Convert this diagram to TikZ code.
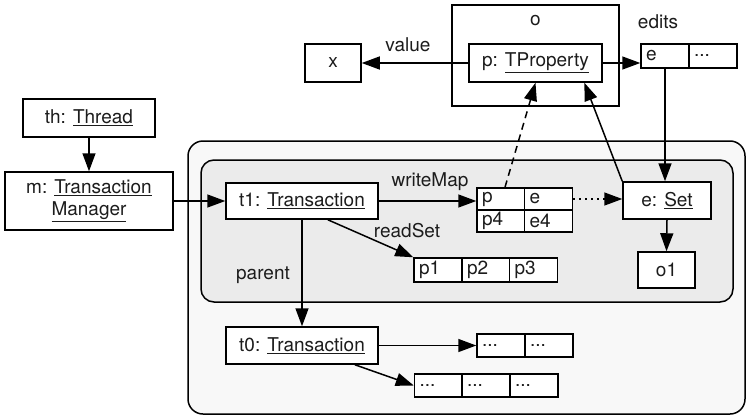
\documentclass[tikz,border=0pt]{standalone}
\usepackage{fontspec}
\setmainfont{TeX Gyre Heros}
\usepackage{tikz}
\usetikzlibrary{arrows.meta}
\usetikzlibrary{positioning}
\definecolor{txtgray}{HTML}{1C1C1C}
\definecolor{outergray}{HTML}{F8F8F8}
\definecolor{innergray}{HTML}{EBEBEB}
\tikzset{box/.style = {draw, fill = white, rectangle, inner sep = 0, minimum height = 37, align = center}}
\tikzset{cell/.style = {draw, fill = white, inner sep = 0, minimum width = 48, minimum height = 23,
                        text width = 38, align = left}}
\tikzset{arr/.style = {-{Triangle[length=18pt, width=13pt]}}}
\tikzset{lbl/.style = {inner sep = 0}}

\begin{document}
\begin{tikzpicture}[x = 1pt, y = -1pt, line width = 1.5pt, text = txtgray,
                    font = \fontsize{19}{22}\selectfont]
    \useasboundingbox (0, 0) rectangle (746, 415);
    \draw [fill = outergray, rounded corners = 15] (188, 141) rectangle (745, 414);
    \draw [fill = innergray, rounded corners = 13] (201, 160) rectangle (733, 302);

    \node [box, minimum width = 167, minimum height = 101] (o) at (535.5, 55.5) {};
    \node [lbl] at (535.5, 21) {o};
    \node [box, minimum width = 133, minimum height = 38] (p) at (535.5, 63) {p: \underline{TProperty}};
    \node [box, minimum width = 56, minimum height = 38] (x) at (333, 63) {x};
    \node [lbl] at (408, 45) {value};
    \node [lbl] at (658, 22) {edits};
    \node [cell, minimum height = 24] (ed1) at (665, 56) {e};
    \node [cell, minimum height = 24] (ed2) at (713, 56) {...};

    \node [box, minimum width = 132, minimum height = 38] (th) at (89, 118) {th: \underline{Thread}};
    \node [box, minimum width = 168, minimum height = 58] (m) at (89, 201)
        {m: \underline{Transaction}\\\underline{Manager}};

    \node [box, minimum width = 152, minimum height = 36] (t1) at (302, 201) {t1: \underline{Transaction}};
    \node [cell, minimum height = 22] (wmp) at (501, 199) {p};
    \node [cell, minimum height = 22] (wme) at (548.5, 199) {e};
    \node [cell, minimum height = 22] (wmp4) at (501, 221) {p4};
    \node [cell, minimum height = 22] (wme4) at (548.5, 221) {e4};
    \node [lbl] at (430, 182) {writeMap};
    \node [lbl] at (407, 231) {readSet};
    \node [cell, minimum height = 24] (rs1) at (438, 270) {p1};
    \node [cell, minimum height = 24] (rs2) at (486, 270) {p2};
    \node [cell, minimum height = 24] (rs3) at (533.5, 270) {p3};
    \node [box, minimum width = 88] (eset) at (667, 200.5) {e: \underline{Set}};
    \node [box, minimum width = 57, minimum height = 36] (o1) at (666.5, 270) {o1};
    \node [lbl] at (263, 275) {parent};

    \node [box, minimum width = 152] (t0) at (302, 345.5) {t0: \underline{Transaction}};
    \node [cell] (a1) at (501, 345.5) {...};
    \node [cell] (a2) at (549, 345.5) {...};
    \node [cell] (b1) at (438.5, 385.5) {...};
    \node [cell] (b2) at (486, 385.5) {...};
    \node [cell] (b3) at (534, 385.5) {...};

    \draw [arr] (p.west) -- (x.east);
    \draw [arr] (p.east) -- (p.east -| ed1.west);
    \draw [arr] (ed1.south) -- (ed1.south |- eset.north);
    \draw [arr] (th.south) -- (m.north);
    \draw [arr] (m.east) -- (t1.west);
    \draw [arr] (t1.east) -- (t1.east -| wmp.west);
    \draw [arr, dash pattern = on 1.5pt off 4.5pt] (wme.east) -- (wme.east -| eset.west);
    \draw [arr] (eset.south) -- (o1.north);
    \draw [arr] (t1.-36) -- (rs1.north west);
    \draw [arr] (t1.south) -- (t0.north);
    \draw [arr] (t0.east) -- (a1.west);
    \draw [arr] (t0.-20) -- (b1.west);
    \draw [arr, dash pattern = on 7pt off 5pt] ([xshift = 4]wmp.north) -- (p.south);
    \draw [arr] (eset.north west) -- (p.-22);
\end{tikzpicture}
\end{document}
